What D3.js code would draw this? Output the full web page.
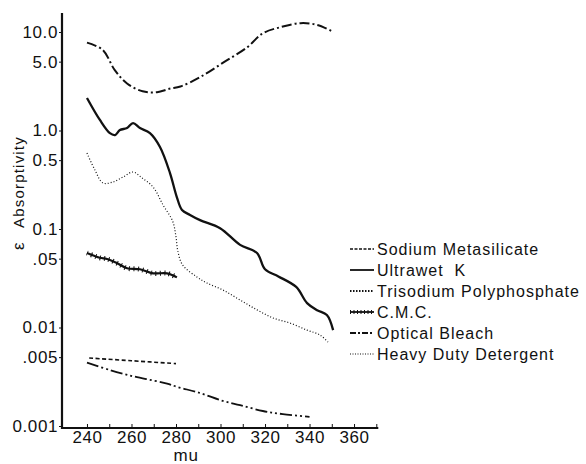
<!DOCTYPE html>
<html>
<head>
<meta charset="utf-8">
<script src="https://cdn.jsdelivr.net/npm/d3@7"></script>
<style>
  body { margin: 0; background: #fff; }
  text { font-family: "Liberation Sans", Arial, sans-serif; fill: #111; }
</style>
</head>
<body>
<script>
// wavelength (mu) vs absorptivity
const sodiumMetasilicate = [[241, 0.0049], [260, 0.0046], [280, 0.0043]];
const ultrawetK = [[240, 2.14], [245.8, 1.28], [250.3, 0.94], [252.6, 0.9], [254.8, 1.01], [258, 1.06],
  [260.7, 1.19], [263.8, 1.06], [268.3, 0.94], [272.8, 0.68], [277.3, 0.37], [280.4, 0.21],
  [282.7, 0.156], [286.3, 0.139], [290.8, 0.123], [299.8, 0.102], [308.8, 0.069], [316.4, 0.057],
  [320, 0.039], [326, 0.033], [334, 0.0258], [338.9, 0.0177], [343.4, 0.0150], [347.8, 0.0134], [350.6, 0.0094]];
const trisodiumPolyphosphate = [[240, 0.0044], [250.3, 0.0037], [260.7, 0.0032], [269.7, 0.0029],
  [276, 0.0027], [280.4, 0.0025], [290.8, 0.00216], [301, 0.0018], [308.8, 0.00163], [319, 0.00142],
  [328, 0.00132], [340, 0.00124]];
const cmc = [[240, 0.057], [245.8, 0.051], [249, 0.0496], [253.5, 0.045], [258, 0.040], [263.8, 0.039],
  [269.7, 0.0355], [276, 0.0355], [280.4, 0.0323]];
const opticalBleach = [[240, 7.8], [247, 6.6], [252.5, 4.1], [258, 3.0], [265, 2.5], [271.5, 2.45],
  [277, 2.65], [282, 2.8], [291, 3.5], [301, 4.85], [312, 7.0], [319, 9.7], [327, 11.2], [336, 12.3],
  [343.5, 11.8], [350, 10.2]];
const heavyDutyDetergent = [[240, 0.59], [243.5, 0.40], [247.2, 0.293], [251.7, 0.30], [256.2, 0.337],
  [260.7, 0.379], [264.7, 0.33], [269.7, 0.267], [274.2, 0.175], [278.5, 0.12], [280, 0.083], [280.8, 0.06],
  [283, 0.043], [289.4, 0.0326], [293.9, 0.0283], [301.1, 0.024], [308.8, 0.019], [316.4, 0.0151],
  [323.6, 0.0125], [331.2, 0.0111], [338.9, 0.0094], [344.7, 0.0084], [348.3, 0.0071]];

const seriesNames = ['Sodium Metasilicate', 'Ultrawet\u00a0 K', 'Trisodium Polyphosphate', 'C.M.C.', 'Optical Bleach', 'Heavy Duty Detergent'];
const seriesData = [sodiumMetasilicate, ultrawetK, trisodiumPolyphosphate, cmc, opticalBleach, heavyDutyDetergent];

const xTicks = d3.range(240, 371, 10);
const xLabels = [240, 260, 280, 300, 320, 340, 360];
const yTicks = [10, 5, 1, 0.5, 0.1, 0.05, 0.01, 0.005, 0.001];
const yLabels = ['10.0', '5.0', '1.0', '0.5', '0.1', '.05', '0.01', '.005', '0.001'];

// line styles per series: curve dash, legend dash
const styles = [
  { dash: '4,2.5', legendDash: '3,1.5', width: 1.6 },
  { dash: null, legendDash: null, width: 2.3 },
  { dash: '12,3,2,3,2,3', legendDash: '1.5,1.5', width: 1.8 },
  { dash: null, legendDash: null, width: 2.2, hatch: true },
  { dash: '10,3,2,3', legendDash: '6,2,2,2', width: 2 },
  { dash: '1,2', legendDash: '1,1.5', width: 1.2 }
];

const width = 586, height = 464;
const axisLeftX = 62, axisBottomY = 428, axisTopY = 13;

const svg = d3.select('body').append('svg')
  .attr('width', width)
  .attr('height', height);

const x = d3.scaleLinear().domain([229, 370]).range([62.5, 376.3]);
const y = d3.scaleLog().domain([0.001, 10]).range([426, 32]);

// axes
svg.append('line')
  .attr('x1', axisLeftX).attr('x2', axisLeftX)
  .attr('y1', axisTopY).attr('y2', axisBottomY + 1)
  .attr('stroke', '#111').attr('stroke-width', 2.2);
svg.append('line')
  .attr('x1', axisLeftX - 1).attr('x2', x(370) + 2)
  .attr('y1', axisBottomY).attr('y2', axisBottomY)
  .attr('stroke', '#111').attr('stroke-width', 2.2);

const xAxis = svg.append('g')
  .attr('transform', `translate(0,${axisBottomY})`)
  .call(d3.axisBottom(x).tickValues(xTicks).tickSize(-4).tickPadding(7)
    .tickFormat(d => xLabels.includes(d) ? d : ''));
xAxis.select('.domain').remove();
xAxis.selectAll('line').attr('stroke', '#111').attr('stroke-width', 1);
xAxis.selectAll('text')
  .attr('font-size', 17).attr('letter-spacing', 0.6)
  .attr('font-family', '"Liberation Sans", Arial, sans-serif')
  .attr('fill', '#111')
  .attr('y', 3).attr('dy', '0.71em');

const yAxis = svg.append('g')
  .attr('transform', `translate(${axisLeftX},0)`)
  .call(d3.axisLeft(y).tickValues(yTicks).tickSize(3).tickPadding(1)
    .tickFormat((d, i) => yLabels[i]));
yAxis.select('.domain').remove();
yAxis.selectAll('line').attr('stroke', '#111').attr('stroke-width', 1);
yAxis.selectAll('text')
  .attr('font-size', 17).attr('letter-spacing', 0.6)
  .attr('font-family', '"Liberation Sans", Arial, sans-serif')
  .attr('fill', '#111');

// curves
const line = d3.line()
  .x(d => x(d[0]))
  .y(d => y(d[1]))
  .curve(d3.curveCatmullRom.alpha(0.5));

seriesData.forEach((data, i) => {
  const s = styles[i];
  svg.append('path')
    .datum(data)
    .attr('d', line)
    .attr('fill', 'none')
    .attr('stroke', '#111')
    .attr('stroke-width', s.width)
    .attr('stroke-dasharray', s.dash);
  if (s.hatch) {
    svg.append('path')
      .datum(data)
      .attr('d', line)
      .attr('fill', 'none')
      .attr('stroke', '#111')
      .attr('stroke-width', 5)
      .attr('stroke-dasharray', '1,3.5');
  }
});

// legend
const legend = svg.append('g').attr('transform', 'translate(350,249)');
seriesNames.forEach((name, i) => {
  const s = styles[i];
  const g = legend.append('g').attr('transform', `translate(0,${i * 21})`);
  g.append('line')
    .attr('x1', 0).attr('x2', 24)
    .attr('stroke', '#111')
    .attr('stroke-width', Math.min(s.width, 1.8))
    .attr('stroke-dasharray', s.legendDash);
  if (s.hatch) {
    g.append('line')
      .attr('x1', 0).attr('x2', 24)
      .attr('stroke', '#111')
      .attr('stroke-width', 4)
      .attr('stroke-dasharray', '1,2.5');
  }
  g.append('text')
    .attr('x', 27)
    .attr('dy', '0.35em')
    .attr('font-size', 16)
    .attr('letter-spacing', 1)
    .text(name);
});

// axis titles
svg.append('text')
  .attr('transform', 'translate(24,250) rotate(-90)')
  .attr('font-size', 17)
  .text('ε');
svg.append('text')
  .attr('transform', 'translate(24,228) rotate(-90)')
  .attr('font-size', 15)
  .attr('letter-spacing', 1.2)
  .text('Absorptivity');
svg.append('text')
  .attr('x', x(290) - 12)
  .attr('y', 461)
  .attr('text-anchor', 'middle')
  .attr('font-size', 17)
  .attr('letter-spacing', 1)
  .text('mu');
</script>
</body>
</html>
